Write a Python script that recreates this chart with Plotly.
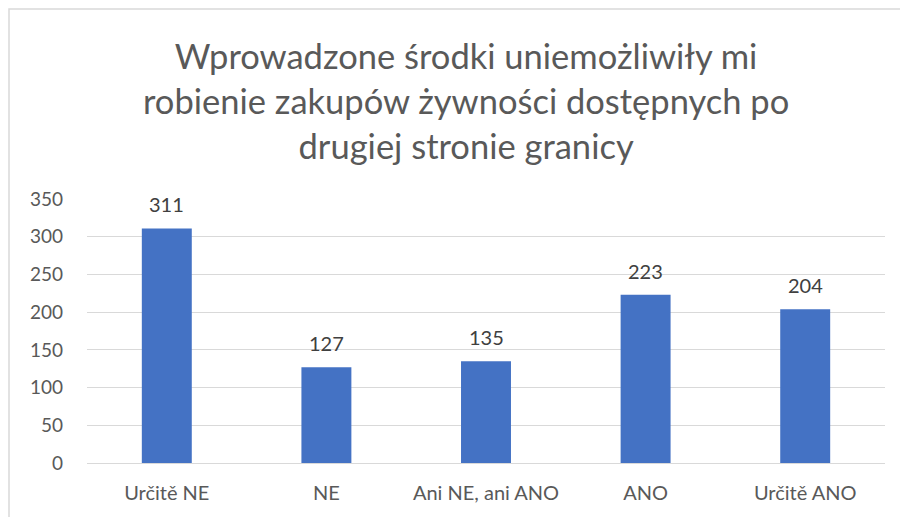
import plotly.graph_objects as go

categories = ["Určitě NE", "NE", "Ani NE, ani ANO", "ANO", "Určitě ANO"]
values = [311, 127, 135, 223, 204]
y_ticks = [0, 50, 100, 150, 200, 250, 300, 350]
title_text = "Wprowadzone środki uniemożliwiły mi<br>robienie zakupów żywności dostępnych po<br>drugiej stronie granicy"

# page is offset by the body margin (8px); figure coords = reference coords - 8
OFF = 8
W, H = 908 - OFF, 517 - OFF
L, R, T, B = 87 - OFF, 23, 199 - OFF, 54
pw, ph = W - L - R, H - T - B
FONT = "Lato, Open Sans, sans-serif"

fig = go.Figure(go.Bar(x=categories, y=values, marker_color="#4472C4",
                       marker_line_width=0, hoverinfo="skip"))

for c, v in zip(categories, values):
    fig.add_annotation(x=c, y=v, text=str(v), showarrow=False, yanchor="bottom",
                       yshift=10, font=dict(family=FONT, size=20, color="#404040"))

fig.add_annotation(xref="paper", yref="paper", x=(466 - OFF - L) / pw, y=(H - B - (100 - OFF)) / ph,
                   xanchor="center", yanchor="middle", showarrow=False, text=title_text,
                   font=dict(family=FONT, size=34.5, color="#595959"))

fig.add_shape(type="rect", xref="paper", yref="paper",
              x0=(9 - OFF - L) / pw, x1=(W + 20 - L) / pw,
              y0=-(B + 20) / ph, y1=(H - B - (9 - OFF)) / ph,
              line=dict(color="#d9d9d9", width=1.5), fillcolor="rgba(0,0,0,0)", layer="below")

fig.update_layout(
    width=W, height=H,
    margin=dict(l=L, r=R, t=T, b=B),
    paper_bgcolor="white", plot_bgcolor="white",
    bargap=0.687,
    showlegend=False,
    font=dict(family=FONT, color="#595959"),
    xaxis=dict(showgrid=False, showline=False, ticks="", tickfont=dict(size=20, color="#595959"),
               ticklabelstandoff=16, fixedrange=True),
    yaxis=dict(range=[0, 350], tickvals=y_ticks, showgrid=True, gridcolor="#d9d9d9", gridwidth=1,
               zeroline=True, zerolinecolor="#d9d9d9", zerolinewidth=1, showline=False,
               ticks="", ticklabelstandoff=23, tickfont=dict(size=19, color="#595959"), fixedrange=True),
)

fig.write_html("out.html")
